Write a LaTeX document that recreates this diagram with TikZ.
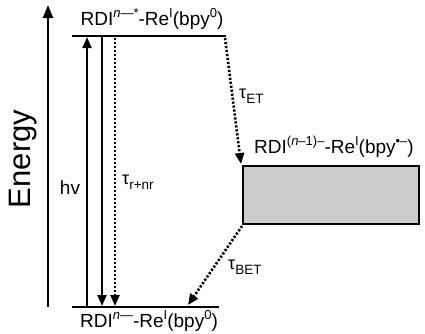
\documentclass[tikz,border=0pt]{standalone}
\usepackage{fontspec}
\setmainfont{Liberation Sans}
\usetikzlibrary{arrows.meta}
\newcommand{\supx}[1]{\raisebox{0.42em}{\fontsize{13}{13}\selectfont #1}}
\newcommand{\subx}[1]{\raisebox{-0.25em}{\fontsize{13.5}{14}\selectfont #1}}
\begin{document}
\begin{tikzpicture}[x=1pt,y=-1pt,
  lvl/.style={line width=2.4pt},
  sol/.style={line width=2pt,-{Triangle[length=11pt,width=9pt]}},
  dots/.style={line width=2.6pt,dash pattern=on 2.2pt off 1.8pt,-{Triangle[length=11pt,width=9pt]}},
  lab/.style={font=\fontsize{19}{21}\selectfont,inner sep=0pt},
  tau/.style={font=\fontsize{18}{20}\selectfont,inner sep=0pt,anchor=west}]
\useasboundingbox (0,0) rectangle (425,333);
% levels
\coordinate (tl) at (72,36);
\coordinate (tr) at (226,36);
\coordinate (bl) at (72,307);
\coordinate (br) at (219,307);
\draw[lvl] (tl) -- (tr);
\draw[lvl] (bl) -- (br);
% energy axis
\coordinate (e0) at (48,307);
\coordinate (e1) at (48,5);
\draw[line width=2.2pt,-{Triangle[length=13pt,width=10pt]}] (e0) -- (e1);
\node[font=\fontsize{31}{33}\selectfont,rotate=90,inner sep=0pt] (energy) at (23,159) {Energy};
% vertical transitions
\coordinate (hv0) at (87,306);
\coordinate (hv1) at (87,37);
\coordinate (d0) at (102,37);
\coordinate (d1) at (102,306);
\coordinate (n0) at (115,38);
\coordinate (n1) at (115,306);
\draw[sol] (hv0) -- (hv1);
\draw[sol] (d0) -- (d1);
\draw[dots] (n0) -- (n1);
\node[lab] (hv) at (70,188) {hv};
\node[tau] (trnr) at (122,182) {τ\subx{r+nr}};
% CT state box
\node[draw,line width=2.4pt,fill=black!20,minimum width=176pt,minimum height=58pt,inner sep=0pt] (box) at (331,195) {};
\node[lab] (ctlab) at (334,147) {RDI\supx{(\textit{n}–1)–}-Re\supx{I}(bpy\supx{\textbullet–})};
% ET and BET
\coordinate (et0) at (225,38);
\coordinate (et1) at (241,164);
\draw[dots] (et0) -- (et1);
\node[tau] (tet) at (239,96) {τ\subx{ET}};
\coordinate (bet0) at (242,226);
\coordinate (bet1) at (188,305);
\draw[dots] (bet0) -- (bet1);
\node[tau] (tbet) at (228,267) {τ\subx{BET}};
% level labels
\node[lab] (toplab) at (152,19) {RDI\supx{\textit{n}—*}-Re\supx{I}(bpy\supx{0})};
\node[lab] (botlab) at (149,321) {RDI\supx{\textit{n}—}-Re\supx{I}(bpy\supx{0})};
\end{tikzpicture}
\end{document}
